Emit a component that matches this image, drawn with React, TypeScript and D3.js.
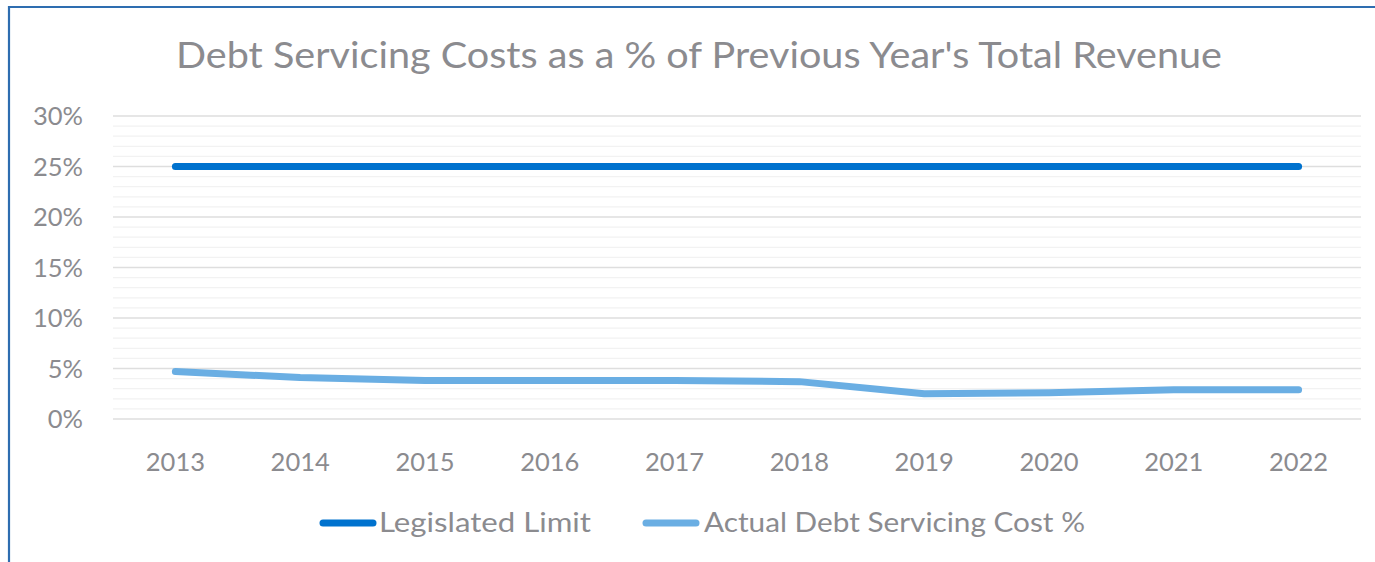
import React from "react";
import * as d3 from "d3";

const years = ["2013","2014","2015","2016","2017","2018","2019","2020","2021","2022"];
const legislatedLimit = [25,25,25,25,25,25,25,25,25,25];
const actualCost = [4.7,4.1,3.8,3.8,3.8,3.7,2.5,2.6,2.9,2.9];
const yTicks = [0,5,10,15,20,25,30];
const minorTicks = d3.range(0, 31, 1);

const W = 1375, H = 562;
const FONT = "Lato, 'Open Sans', sans-serif";
const TEXT = "#8b8b8f";
const DARK = "#0072CE";
const LIGHT = "#6AAEE3";

export default function App() {
  const x = d3.scaleBand<string>().domain(years).range([113, 1361]);
  const y = d3.scaleLinear().domain([0, 30]).range([419, 116]);
  const line = d3.line<number>()
    .x((_, i) => (x(years[i]) as number) + x.bandwidth() / 2)
    .y(d => y(d));
  const series = [
    { name: "Legislated Limit", values: legislatedLimit, color: DARK },
    { name: "Actual Debt Servicing Cost %", values: actualCost, color: LIGHT },
  ];
  return (
    <svg width={W} height={H} style={{ position: "absolute", left: 0, top: 0 }} fontFamily={FONT}>
      <rect x={0} y={0} width={W} height={H} fill="#fff" />
      <path d={`M9,${H} V7 H${W}`} fill="none" stroke="#2E6DB0" strokeWidth={2.2} />
      <text x={699} y={68} textAnchor="middle" fontSize={37} fill={TEXT} textLength={1046} lengthAdjust="spacingAndGlyphs">
        Debt Servicing Costs as a % of Previous Year's Total Revenue
      </text>
      {minorTicks.filter(t => t % 5 !== 0).map(t => (
        <line key={"m" + t} x1={113} x2={1361} y1={y(t)} y2={y(t)} stroke="#f2f2f2" strokeWidth={1.3} />
      ))}
      {yTicks.map(t => (
        <line key={"g" + t} x1={113} x2={1361} y1={y(t)} y2={y(t)} stroke="#dedede" strokeWidth={1.3} />
      ))}
      {yTicks.map(t => (
        <text key={"y" + t} x={83} y={y(t)} dy="0.36em" textAnchor="end" fontSize={25.5} fill={TEXT}>{t}%</text>
      ))}
      {years.map(yr => (
        <text key={yr} x={(x(yr) as number) + x.bandwidth() / 2} y={471} textAnchor="middle" fontSize={25.5} fill={TEXT}>{yr}</text>
      ))}
      {series.map(s => (
        <path key={s.name} d={line(s.values) || ""} fill="none" stroke={s.color} strokeWidth={7} strokeLinecap="round" strokeLinejoin="round" />
      ))}
      <g>
        <line x1={323} x2={373} y1={523} y2={523} stroke={DARK} strokeWidth={7} strokeLinecap="round" />
        <text x={379} y={532} fontSize={27} fill={TEXT} textLength={212} lengthAdjust="spacingAndGlyphs">Legislated Limit</text>
        <line x1={646} x2={696} y1={523} y2={523} stroke={LIGHT} strokeWidth={7} strokeLinecap="round" />
        <text x={704} y={532} fontSize={27} fill={TEXT} textLength={381} lengthAdjust="spacingAndGlyphs">Actual Debt Servicing Cost %</text>
      </g>
    </svg>
  );
}
